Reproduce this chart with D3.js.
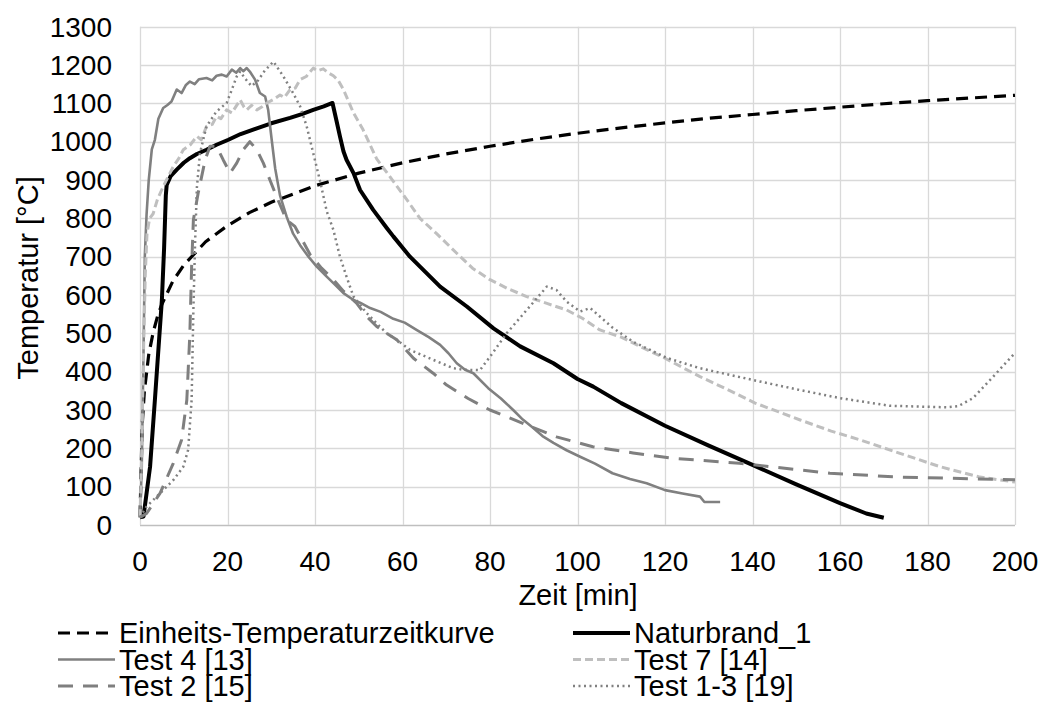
<!DOCTYPE html>
<html>
<head>
<meta charset="utf-8">
<script src="https://cdnjs.cloudflare.com/ajax/libs/d3/7.8.5/d3.min.js"></script>
<style>
  body { margin: 0; background: #fff; }
  svg text { font-family: "Liberation Sans", Arial, sans-serif; fill: #000; }
</style>
</head>
<body>
<div id="chart"><svg></svg></div>
<script>
// data (time in min, temperature in °C)
var etkTime = [0, 0.5, 1, 2, 3, 4, 5, 7.5, 10, 15, 20, 25, 30, 40, 50, 60, 70, 80, 90, 100, 110, 120, 130, 140, 150, 160, 170, 180, 190, 200]
var etkTemp = [20, 261, 349, 445, 502, 544, 576, 636, 678, 739, 781, 815, 842, 885, 918, 945, 968, 988, 1006, 1022, 1036, 1049, 1061, 1071, 1081, 1090, 1099, 1107, 1114, 1121]

var naturTime = [0, 0.8, 2.3, 3.4, 4.2, 5, 5.5, 5.9, 6.1, 7, 8.4, 10, 11.4, 13, 15.2, 17.5, 20.2, 23, 26.7, 30, 34.3, 37, 39.6, 42, 44, 45, 45.7, 46.5, 47.2, 48.8, 50.3, 53.3, 56.4, 57.9, 61.7, 64, 68.6, 74.7, 80.8, 86.9, 94.5, 100, 103.6, 110, 120, 130, 140, 150, 160, 166, 170]
var naturTemp = [20, 22, 152, 326, 457, 587, 720, 860, 887, 910, 927, 945, 957, 968, 979, 992, 1005, 1020, 1035, 1048, 1062, 1072, 1083, 1092, 1101, 1050, 1014, 975, 953, 918, 874, 822, 775, 753, 700, 674, 622, 570, 513, 466, 422, 381, 361, 318, 259, 207, 157, 106, 57, 30, 19]

var test4Time = [0, 0.4, 0.8, 1.1, 1.5, 2, 2.7, 3.4, 4.2, 5.3, 6.2, 7.2, 8.4, 9.5, 10.5, 11.4, 12.5, 13.5, 15.2, 16.5, 17.5, 18.7, 19.8, 21, 22, 22.9, 23.6, 24.4, 25.1, 26.3, 27.4, 28.6, 29.3, 30.1, 30.9, 32, 33.5, 35, 36.6, 38.5, 40.4, 42.5, 44.2, 46.5, 48.8, 50.3, 52.6, 55, 57.9, 60.5, 63.2, 66, 68.6, 70.5, 72.4, 74.3, 76.2, 79.6, 82.5, 85.3, 87.5, 89.9, 92, 94.5, 97.5, 100.6, 104, 108, 112, 115.8, 120, 124, 128, 129, 132.6]
var test4Temp = [20, 150, 450, 700, 810, 900, 980, 1005, 1060, 1088, 1095, 1105, 1136, 1127, 1148, 1157, 1150, 1163, 1166, 1160, 1172, 1175, 1170, 1188, 1180, 1192, 1184, 1192, 1183, 1162, 1127, 1118, 1083, 1005, 930, 860, 805, 760, 730, 700, 674, 650, 631, 605, 587, 580, 566, 556, 538, 528, 509, 490, 470, 448, 422, 405, 396, 357, 330, 300, 275, 253, 232, 214, 195, 178, 160, 135, 120, 109, 91, 82, 74, 60, 60]

var test7Time = [0, 0.4, 0.8, 1.2, 1.6, 2.2, 3, 4, 5.3, 6.5, 7.6, 8.8, 9.9, 11.5, 13, 14, 15.2, 16.5, 17.5, 18.5, 19.8, 21, 22.9, 23.8, 24.4, 25.5, 26.7, 28, 29, 30.5, 32, 33, 34.3, 35.5, 36.6, 38, 39.6, 40.5, 41.9, 43, 44.2, 45.3, 46.5, 48.8, 51, 54.1, 56.4, 60.9, 64, 67.8, 72.4, 76, 80, 84, 88.4, 93, 97.5, 101, 105.1, 110, 115, 120, 128, 134, 140.6, 146, 150.9, 158, 164.6, 173.7, 182.9, 192, 200]
var test7Temp = [20, 200, 450, 650, 760, 800, 812, 850, 883, 910, 935, 955, 979, 992, 1014, 1005, 1040, 1045, 1066, 1060, 1083, 1075, 1109, 1090, 1083, 1095, 1083, 1092, 1101, 1110, 1122, 1115, 1136, 1140, 1162, 1170, 1192, 1185, 1190, 1180, 1172, 1160, 1136, 1075, 1031, 955, 920, 850, 800, 760, 709, 670, 640, 617, 596, 578, 561, 540, 509, 490, 462, 435, 387, 355, 318, 295, 274, 245, 222, 187, 152, 125, 112]

var test2Time = [0, 1.5, 4.6, 7.6, 9.5, 10.7, 11.4, 11.8, 12.2, 13.3, 14.9, 16, 17.5, 19, 20.6, 22.1, 23.6, 25.1, 26.7, 28.2, 29.7, 31.2, 33.5, 35.4, 38.9, 41.5, 44.2, 46.5, 49.5, 51.8, 54.1, 56.4, 58.7, 62.5, 67, 70.1, 75, 80, 88.4, 95.2, 103.5, 112.7, 121, 137, 157.7, 173.7, 200]
var test2Temp = [20, 30, 83, 161, 222, 326, 500, 674, 796, 866, 953, 988, 988, 953, 918, 944, 979, 1000, 979, 944, 900, 857, 796, 779, 705, 670, 640, 610, 579, 544, 518, 500, 483, 435, 396, 365, 330, 300, 261, 230, 204, 188, 175, 161, 135, 125, 118]

var test13Time = [0, 1.5, 4.6, 7.6, 9.9, 11, 11.8, 12.2, 12.6, 13, 13.7, 15.2, 17.5, 19.8, 21, 22.1, 22.9, 24, 25.5, 27, 28.5, 30.5, 32.8, 35, 36.6, 38.1, 39.6, 41.1, 42.7, 44.2, 45.7, 47.2, 48.8, 51.8, 54.1, 56.4, 58.7, 61.7, 67, 71.6, 74, 77.7, 80, 83.8, 88.4, 93, 95.2, 97.5, 100.6, 102.9, 105.1, 108, 112.7, 120.4, 128, 140.2, 150.9, 160, 171.4, 184.4, 187, 190.4, 195, 200]
var test13Temp = [20, 48, 83, 117, 152, 196, 326, 560, 740, 880, 970, 1040, 1079, 1101, 1136, 1170, 1183, 1165, 1145, 1160, 1185, 1209, 1170, 1127, 1092, 1040, 970, 900, 818, 770, 700, 648, 596, 553, 526, 500, 483, 457, 431, 409, 405, 404, 439, 500, 561, 622, 613, 583, 557, 566, 544, 515, 478, 436, 409, 378, 352, 331, 311, 307, 310, 331, 387, 449]

var seriesNames = ["Einheits-Temperaturzeitkurve", "Naturbrand_1", "Test 4 [13]", "Test 7 [14]", "Test 2 [15]", "Test 1-3 [19]"]
var xTicks = [0, 20, 40, 60, 80, 100, 120, 140, 160, 180, 200]
var yTicks = [0, 100, 200, 300, 400, 500, 600, 700, 800, 900, 1000, 1100, 1200, 1300]

// line look for each series, same order as seriesNames
var styles = [
    {color: "#000000", width: 3.2, dash: "12,7"},
    {color: "#000000", width: 4, dash: null},
    {color: "#808080", width: 2.6, dash: null},
    {color: "#bfbfbf", width: 3, dash: "8,4"},
    {color: "#7f7f7f", width: 3, dash: "15,10"},
    {color: "#808080", width: 2.5, dash: "2,3.5"}
]

var zip = function(t, v) { return t.map(function(d, i) { return {t: d, v: v[i]} }) }
var series = [
    zip(etkTime, etkTemp),
    zip(naturTime, naturTemp),
    zip(test4Time, test4Temp),
    zip(test7Time, test7Temp),
    zip(test2Time, test2Temp),
    zip(test13Time, test13Temp)
]

var W = 1042, H = 717
var svg = d3.select("#chart svg").attr("width", W).attr("height", H)

var x = d3.scaleLinear().domain([0, 200]).range([140, 1015])
var y = d3.scaleLinear().domain([0, 1300]).range([525, 26.7])

// gridlines
svg.append("g").selectAll("line").data(yTicks).enter().append("line")
    .attr("x1", x(0)).attr("x2", x(200))
    .attr("y1", function(d) { return Math.round(y(d)) + 0.5 })
    .attr("y2", function(d) { return Math.round(y(d)) + 0.5 })
    .attr("stroke", function(d) { return d == 0 ? "#bfbfbf" : "#d9d9d9" })
    .attr("stroke-width", 1.3)
svg.append("g").selectAll("line").data(xTicks).enter().append("line")
    .attr("y1", y(0)).attr("y2", y(1300))
    .attr("x1", function(d) { return Math.round(x(d)) + 0.5 })
    .attr("x2", function(d) { return Math.round(x(d)) + 0.5 })
    .attr("stroke", "#d9d9d9")
    .attr("stroke-width", 1.3)

// tick labels
svg.append("g").selectAll("text").data(yTicks).enter().append("text")
    .attr("x", 112).attr("y", function(d) { return y(d) })
    .attr("dy", "0.35em").attr("text-anchor", "end")
    .style("font-size", "28px")
    .text(function(d) { return d })
svg.append("g").selectAll("text").data(xTicks).enter().append("text")
    .attr("x", function(d) { return x(d) }).attr("y", 561)
    .attr("dy", "0.35em").attr("text-anchor", "middle")
    .style("font-size", "28px")
    .text(function(d) { return d })

// axis titles
svg.append("text").attr("x", 578).attr("y", 595).attr("dy", "0.35em")
    .attr("text-anchor", "middle").style("font-size", "29px").text("Zeit [min]")
svg.append("text").attr("transform", "translate(28,278) rotate(-90)").attr("dy", "0.35em")
    .attr("text-anchor", "middle").style("font-size", "29px").text("Temperatur [°C]")

// the curves
var line = d3.line().x(function(d) { return x(d.t) }).y(function(d) { return y(d.v) })
svg.append("g").selectAll("path").data(series).enter().append("path")
    .attr("d", line)
    .attr("fill", "none")
    .attr("stroke", function(d, i) { return styles[i].color })
    .attr("stroke-width", function(d, i) { return styles[i].width })
    .attr("stroke-dasharray", function(d, i) { return styles[i].dash })
    .attr("stroke-linejoin", "round")

// legend, two columns
var legend = svg.append("g").selectAll("g").data(seriesNames).enter().append("g")
    .attr("transform", function(d, i) {
        var col = i % 2, row = Math.floor(i / 2)
        return "translate(" + (col == 0 ? 58 : 573) + "," + (633 + row * 26.5) + ")"
    })
legend.append("line").attr("x1", 0).attr("x2", 57).attr("y1", 0).attr("y2", 0)
    .attr("stroke", function(d, i) { return styles[i].color })
    .attr("stroke-width", function(d, i) { return styles[i].width })
    .attr("stroke-dasharray", function(d, i) { return styles[i].dash })
legend.append("text").attr("x", 61).attr("y", 0).attr("dy", "0.35em")
    .style("font-size", "29px")
    .text(function(d) { return d })
</script>
</body>
</html>
